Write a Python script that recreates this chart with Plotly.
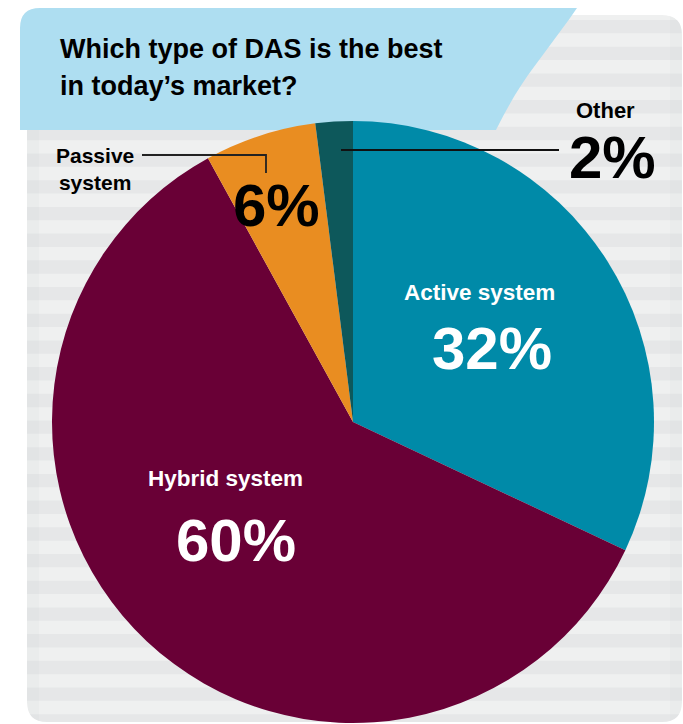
import plotly.graph_objects as go

# ---- data ----
categories = ["Active system", "Hybrid system", "Passive system", "Other"]
values = [32, 60, 6, 2]
colors = ["#008AA8", "#690036", "#E98D21", "#0D585B"]
title_lines = ["Which type of DAS is the best", "in today\u2019s market?"]

W, H = 683, 724


def px(x):
    return x / W


def py(y):
    return 1 - y / H


fig = go.Figure()

cx, cy, r = 353, 422, 301
fig.add_trace(go.Pie(
    labels=categories,
    values=values,
    sort=False,
    direction="clockwise",
    rotation=0,
    marker=dict(colors=colors, line=dict(width=0)),
    textinfo="none",
    hoverinfo="label+percent",
    showlegend=False,
    domain=dict(x=[px(cx - r), px(cx + r)], y=[py(cy + r), py(cy - r)]),
))

shapes = []
# panel with rounded corners
x0, x1, y0, y1, rad = 27, 682, 15, 722, 20


def rounded_path(x0, y0, x1, y1, rad):
    return (f"M {px(x0+rad)},{py(y0)} L {px(x1-rad)},{py(y0)} "
            f"Q {px(x1)},{py(y0)} {px(x1)},{py(y0+rad)} "
            f"L {px(x1)},{py(y1-rad)} Q {px(x1)},{py(y1)} {px(x1-rad)},{py(y1)} "
            f"L {px(x0+rad)},{py(y1)} Q {px(x0)},{py(y1)} {px(x0)},{py(y1-rad)} "
            f"L {px(x0)},{py(y0+rad)} Q {px(x0)},{py(y0)} {px(x0+rad)},{py(y0)} Z")


shapes.append(dict(type="path", xref="paper", yref="paper", path=rounded_path(x0, y0, x1, y1, rad),
                   fillcolor="#EFF0F0", line=dict(width=0), layer="below"))
# stripes
y = y0 + 5
period = 26.7
while y < y1:
    ya, yb = y, min(y + period / 2, y1)
    shapes.append(dict(type="rect", xref="paper", yref="paper",
                       x0=px(x0), x1=px(x1), y0=py(yb), y1=py(ya),
                       fillcolor="#E6E7E8", line=dict(width=0), layer="below"))
    y += period
# side shading
for (xa, xb) in [(x0, x0 + 12), (x1 - 12, x1)]:
    shapes.append(dict(type="rect", xref="paper", yref="paper",
                       x0=px(xa), x1=px(xb), y0=py(y1), y1=py(y0),
                       fillcolor="rgba(200,202,205,0.10)", line=dict(width=0), layer="below"))
# corner masks (white outside rounded corners)
for (cxp, cyp, sx, sy) in [(x0, y1, 1, -1), (x1, y1, -1, -1), (x1, y0, -1, 1), (x0, y0, 1, 1)]:
    path = (f"M {px(cxp)},{py(cyp + sy*rad)} L {px(cxp)},{py(cyp)} L {px(cxp + sx*rad)},{py(cyp)} "
            f"Q {px(cxp)},{py(cyp)} {px(cxp)},{py(cyp + sy*rad)} Z")
    shapes.append(dict(type="path", xref="paper", yref="paper", path=path,
                       fillcolor="white", line=dict(width=0), layer="below"))

# title banner
bpath = (f"M {px(40)},{py(8)} L {px(577)},{py(8)} "
         f"C {px(555)},{py(40)} {px(530)},{py(70)} {px(515)},{py(95)} "
         f"C {px(505)},{py(112)} {px(500)},{py(122)} {px(496)},{py(130)} "
         f"L {px(20)},{py(130)} L {px(20)},{py(28)} Q {px(20)},{py(8)} {px(40)},{py(8)} Z")
shapes.append(dict(type="path", xref="paper", yref="paper", path=bpath,
                   fillcolor="#AEDEF1", line=dict(width=0), layer="below"))

# leader lines
shapes.append(dict(type="path", xref="paper", yref="paper",
                   path=f"M {px(142)},{py(155)} L {px(266)},{py(155)} L {px(266)},{py(173)}",
                   line=dict(color="#222222", width=1.8), layer="above"))
shapes.append(dict(type="line", xref="paper", yref="paper",
                   x0=px(341), x1=px(559), y0=py(150), y1=py(150),
                   line=dict(color="#111111", width=1.8), layer="above"))

ann = []
FONT = "Liberation Sans, Arial, sans-serif"


def add(text, x, y, size, color="black", xanchor="center"):
    ann.append(dict(text=text, x=px(x), y=py(y), xref="paper", yref="paper",
                    xanchor=xanchor, yanchor="middle", showarrow=False,
                    font=dict(family=FONT, size=size, color=color)))


# title
add("<b>" + title_lines[0] + "</b>", 58, 49, 27, xanchor="left")
add("<b>" + title_lines[1] + "</b>", 58, 86, 27, xanchor="left")

# slice labels
add(f"<b>{categories[0]}</b>", 479, 292, 22.5, "white")
add(f"<b>{values[0]}%</b>", 492, 348, 60, "white")
add(f"<b>{categories[1]}</b>", 225, 478, 22.5, "white")
add(f"<b>{values[1]}%</b>", 236, 540, 60, "white")
add(f"<b>{categories[2].split(' ')[0]}<br>{categories[2].split(' ')[1]}</b>", 54, 169, 21, xanchor="left")
add(f"<b>{values[2]}%</b>", 276, 205, 60)
add(f"<b>{categories[3]}</b>", 605, 110, 22)
add(f"<b>{values[3]}%</b>", 612, 158, 60)

fig.update_layout(
    width=W, height=H,
    margin=dict(l=0, r=0, t=0, b=0),
    paper_bgcolor="white",
    plot_bgcolor="white",
    shapes=shapes,
    annotations=ann,
)

fig.write_html("out.html")
